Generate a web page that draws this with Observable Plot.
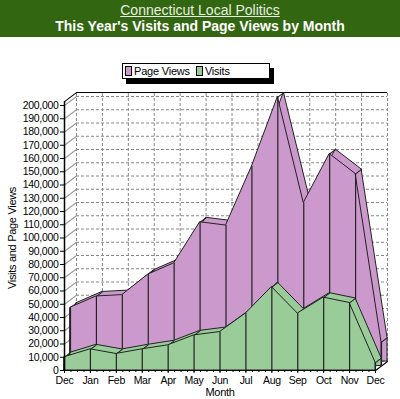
<!DOCTYPE html>
<html>
<head>
<meta charset="utf-8">
<script src="https://cdn.jsdelivr.net/npm/d3@7"></script>
<script src="https://cdn.jsdelivr.net/npm/@observablehq/plot@0.6"></script>
<style>
  html, body { margin: 0; padding: 0; background: #fff; width: 400px; height: 399px; overflow: hidden; }
  body { position: relative; font-family: "Liberation Sans", Arial, sans-serif; }
  #header { position: absolute; left: 0; top: 0; width: 400px; height: 37px; background: #336611; text-align: center; }
  #t1 { position: absolute; left: 0; right: 0; top: 2px; font-size: 14px; color: #e8eee0; text-decoration: underline; line-height: 16px; }
  #t2 { position: absolute; left: 0; right: 0; top: 18px; font-size: 14px; font-weight: bold; color: #fff; line-height: 17px; }
  #chart { position: absolute; left: 0; top: 40px; }
  #legend { position: absolute; left: 122px; top: 63px; width: 146px; height: 14px; border: 1px solid #000; background: #fff; box-shadow: 4px 5px 0 #000;
    font-family: "Liberation Sans", Arial, sans-serif; font-size: 11px; letter-spacing: -0.2px; line-height: 14px; white-space: nowrap; }
  .sw { display: inline-block; width: 5px; height: 8px; border: 1px solid #000; vertical-align: -1px; margin: 0 2px 0 2px; }
  .sw + .sw, .gap { margin-left: 6px; }
</style>
</head>
<body>
<div id="header"><div id="t1">Connecticut Local Politics</div><div id="t2">This Year's Visits and Page Views by Month</div></div>
<div id="chart"></div>
<div id="legend"></div>
<script>
// ---- data ----
const months = ["Dec","Jan","Feb","Mar","Apr","May","Jun","Jul","Aug","Sep","Oct","Nov","Dec"];
const visits = [10000,16000,12500,16000,19000,26500,29000,43000,63000,43000,55000,51000,6000];
const pageViews = [44000,52500,53500,69000,77500,108500,106000,150500,203000,123000,160000,145000,18000];
const seriesNames = ["Page Views","Visits"];
const seriesColors = ["#cc99cc","#99cc99"];
const yTicks = d3.range(0, 200001, 10000);
const yTop = 203000;

const idx = d3.range(months.length);
const pvData = idx.map(i => ({i, v: pageViews[i]}));
const viData = idx.map(i => ({i, v: visits[i]}));

// 3D depth offset per series slot (style only)
const DX = 6, DY = -4.5;
const depthLen = Math.hypot(DX, DY);
const depthAngle = Math.atan2(DX, -DY) * 180 / Math.PI;
const seg = {draw(ctx, l) { ctx.moveTo(0, 0); ctx.lineTo(0, -l); }};

function series(data, color, depth) {
  const fx = DX * depth, fy = DY * depth;
  return [
    Plot.areaY(data, {x: "i", y: "v", dx: fx + DX, dy: fy + DY, fill: color, stroke: "#222", strokeWidth: 1}),
    Plot.vector(data, {x: "i", y: "v", dx: fx, dy: fy, length: depthLen, rotate: depthAngle, anchor: "start", shape: seg, stroke: "#222", strokeWidth: 1}),
    Plot.areaY(data, {x: "i", y: "v", dx: fx, dy: fy, fill: color, stroke: "#222", strokeWidth: 1}),
    Plot.ruleX(data, {x: "i", y1: 0, y2: "v", dx: fx, dy: fy, stroke: "#222", strokeWidth: 1.2})
  ];
}

const grid = {stroke: "#888", strokeDasharray: "3,2", strokeWidth: 1};
const font = "'Liberation Sans', Arial, sans-serif";

const chart = Plot.plot({
  width: 400,
  height: 359,
  marginLeft: 64,
  marginRight: 25,
  marginTop: 65,
  marginBottom: 29,
  style: {fontFamily: font, fontSize: "10px", letterSpacing: "-0.3px", color: "#000", background: "transparent"},
  x: {type: "linear", domain: [0, 12]},
  y: {domain: [0, 200000]},
  marks: [
    // back wall grid
    Plot.ruleY(yTicks, {y: d => d, x1: 0, x2: 12, dx: 2 * DX, dy: 2 * DY, ...grid}),
    Plot.ruleX(idx, {x: d => d, y1: 0, y2: yTop, dx: 2 * DX, dy: 2 * DY, ...grid}),
    // left side wall diagonals
    Plot.vector(yTicks, {x: 0, y: d => d, length: 2 * depthLen, rotate: depthAngle, anchor: "start", shape: seg, stroke: "#999", strokeWidth: 1}),
    // back wall top edge and corners
    Plot.ruleY([yTop], {x1: 0, x2: 12, dx: 2 * DX, dy: 2 * DY, stroke: "#000", strokeWidth: 1}),
    Plot.vector([[0, yTop], [0, 0], [12, 0]], {x: d => d[0], y: d => d[1], length: 2 * depthLen, rotate: depthAngle, anchor: "start", shape: seg, stroke: "#000", strokeWidth: 1}),
    // series (back to front)
    ...series(pvData, seriesColors[0], 1),
    ...series(viData, seriesColors[1], 0),
    // front axes
    Plot.ruleX([0], {y1: 0, y2: yTop, stroke: "#000", strokeWidth: 1.5}),
    Plot.ruleY([0], {x1: 0, x2: 12, stroke: "#000", strokeWidth: 1}),
    Plot.axisY({ticks: yTicks, tickFormat: d3.format(","), tickSize: 4, tickPadding: 2, label: null, fontSize: 10.5}),
    Plot.axisX({ticks: d3.range(0, 12.01, 0.25), tickFormat: () => "", tickSize: 2, label: null}),
    Plot.axisX({ticks: idx, tickFormat: i => months[i], tickSize: 3, tickPadding: 3, label: null, fontSize: 10.5}),
    Plot.text(["Visits and Page Views"], {frameAnchor: "left", textAnchor: "middle", rotate: -90, dx: -52, fontSize: 11}),
    Plot.text(["Month"], {frameAnchor: "bottom", dy: 25, fontSize: 11})
  ]
});
document.getElementById("chart").appendChild(chart);

// legend
const lg = document.getElementById("legend");
seriesNames.forEach((n, k) => {
  const s = document.createElement("span");
  s.className = "sw" + (k > 0 ? " gap" : ""); s.style.background = seriesColors[k];
  lg.appendChild(s);
  lg.appendChild(document.createTextNode(n));
});
</script>
</body>
</html>
